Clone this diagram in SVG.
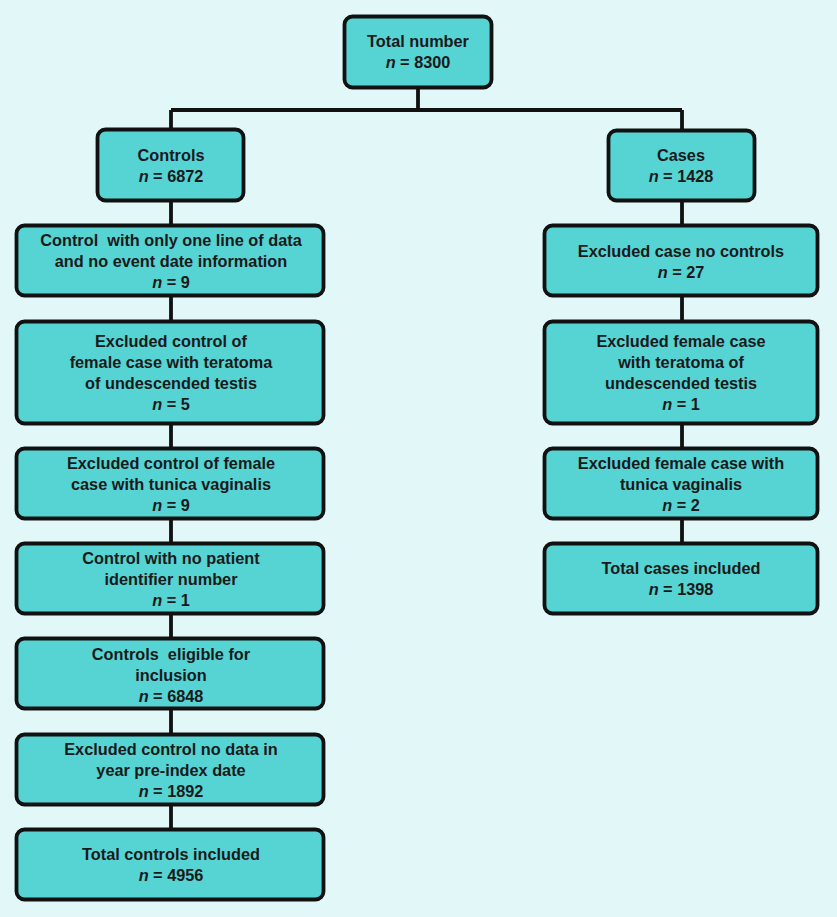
<svg xmlns="http://www.w3.org/2000/svg" width="837" height="917" viewBox="0 0 837 917">
<style>
.bg{fill:#e2f8f8}
.box{fill:#56d3d3;stroke:#111;stroke-width:3.8}
.con{stroke:#111;stroke-width:3.8;fill:none}
text{font-family:"Liberation Sans",Arial,sans-serif;font-weight:bold;font-size:16.3px;fill:#1a1a1a;text-anchor:middle;white-space:pre}
.i{font-style:italic}
</style>
<rect class="bg" x="0" y="0" width="837" height="917"/>
<g id="connectors">
<path class="con" d="M418 89V110M171 110H682M171 110V128M682 110V129"/>
<path class="con" d="M171 202V224M171 297V320M171 425V447M171 520V542M171 615V637M171 710V733M171 806V828"/>
<path class="con" d="M682 202V224M682 297V320M682 425V447M682 520V542"/>
</g>
<g id="total">
<rect class="box" x="344.5" y="16.5" width="147" height="71" rx="8"/>
<text x="418" y="47">Total number</text>
<text x="418" y="68"><tspan class="i">n</tspan> = 8300</text>
</g>
<g id="controls">
<rect class="box" x="97.5" y="129.5" width="146" height="71" rx="8"/>
<text x="171" y="161">Controls</text>
<text x="171" y="182"><tspan class="i">n</tspan> = 6872</text>
</g>
<g id="cases">
<rect class="box" x="608.5" y="130.5" width="146" height="70" rx="8"/>
<text x="681" y="161">Cases</text>
<text x="681" y="182"><tspan class="i">n</tspan> = 1428</text>
</g>
<g id="c1">
<rect class="box" x="16.5" y="225.5" width="307" height="70" rx="8"/>
<text x="171" y="246">Control  with only one line of data</text>
<text x="171" y="267">and no event date information</text>
<text x="171" y="288"><tspan class="i">n</tspan> = 9</text>
</g>
<g id="c2">
<rect class="box" x="16.5" y="321.5" width="307" height="102" rx="8"/>
<text x="171" y="347">Excluded control of</text>
<text x="171" y="368">female case with teratoma</text>
<text x="171" y="389">of undescended testis</text>
<text x="171" y="410"><tspan class="i">n</tspan> = 5</text>
</g>
<g id="c3">
<rect class="box" x="16.5" y="448.5" width="307" height="70" rx="8"/>
<text x="171" y="469">Excluded control of female</text>
<text x="171" y="490">case with tunica vaginalis</text>
<text x="171" y="511"><tspan class="i">n</tspan> = 9</text>
</g>
<g id="c4">
<rect class="box" x="16.5" y="543.5" width="307" height="70" rx="8"/>
<text x="171" y="564">Control with no patient</text>
<text x="171" y="585">identifier number</text>
<text x="171" y="606"><tspan class="i">n</tspan> = 1</text>
</g>
<g id="c5">
<rect class="box" x="16.5" y="638.5" width="307" height="70" rx="8"/>
<text x="171" y="660">Controls  eligible for</text>
<text x="171" y="681">inclusion</text>
<text x="171" y="702"><tspan class="i">n</tspan> = 6848</text>
</g>
<g id="c6">
<rect class="box" x="16.5" y="734.5" width="307" height="70" rx="8"/>
<text x="171" y="755">Excluded control no data in</text>
<text x="171" y="776">year pre-index date</text>
<text x="171" y="797"><tspan class="i">n</tspan> = 1892</text>
</g>
<g id="c7">
<rect class="box" x="16.5" y="829.5" width="307" height="70" rx="8"/>
<text x="171" y="860">Total controls included</text>
<text x="171" y="881"><tspan class="i">n</tspan> = 4956</text>
</g>
<g id="r1">
<rect class="box" x="544.5" y="225.5" width="273" height="70" rx="8"/>
<text x="681" y="257">Excluded case no controls</text>
<text x="681" y="278"><tspan class="i">n</tspan> = 27</text>
</g>
<g id="r2">
<rect class="box" x="544.5" y="321.5" width="273" height="102" rx="8"/>
<text x="681" y="347">Excluded female case</text>
<text x="681" y="368">with teratoma of</text>
<text x="681" y="389">undescended testis</text>
<text x="681" y="410"><tspan class="i">n</tspan> = 1</text>
</g>
<g id="r3">
<rect class="box" x="544.5" y="448.5" width="273" height="70" rx="8"/>
<text x="681" y="469">Excluded female case with</text>
<text x="681" y="490">tunica vaginalis</text>
<text x="681" y="511"><tspan class="i">n</tspan> = 2</text>
</g>
<g id="r4">
<rect class="box" x="544.5" y="543.5" width="273" height="70" rx="8"/>
<text x="681" y="574">Total cases included</text>
<text x="681" y="595"><tspan class="i">n</tspan> = 1398</text>
</g>
</svg>
